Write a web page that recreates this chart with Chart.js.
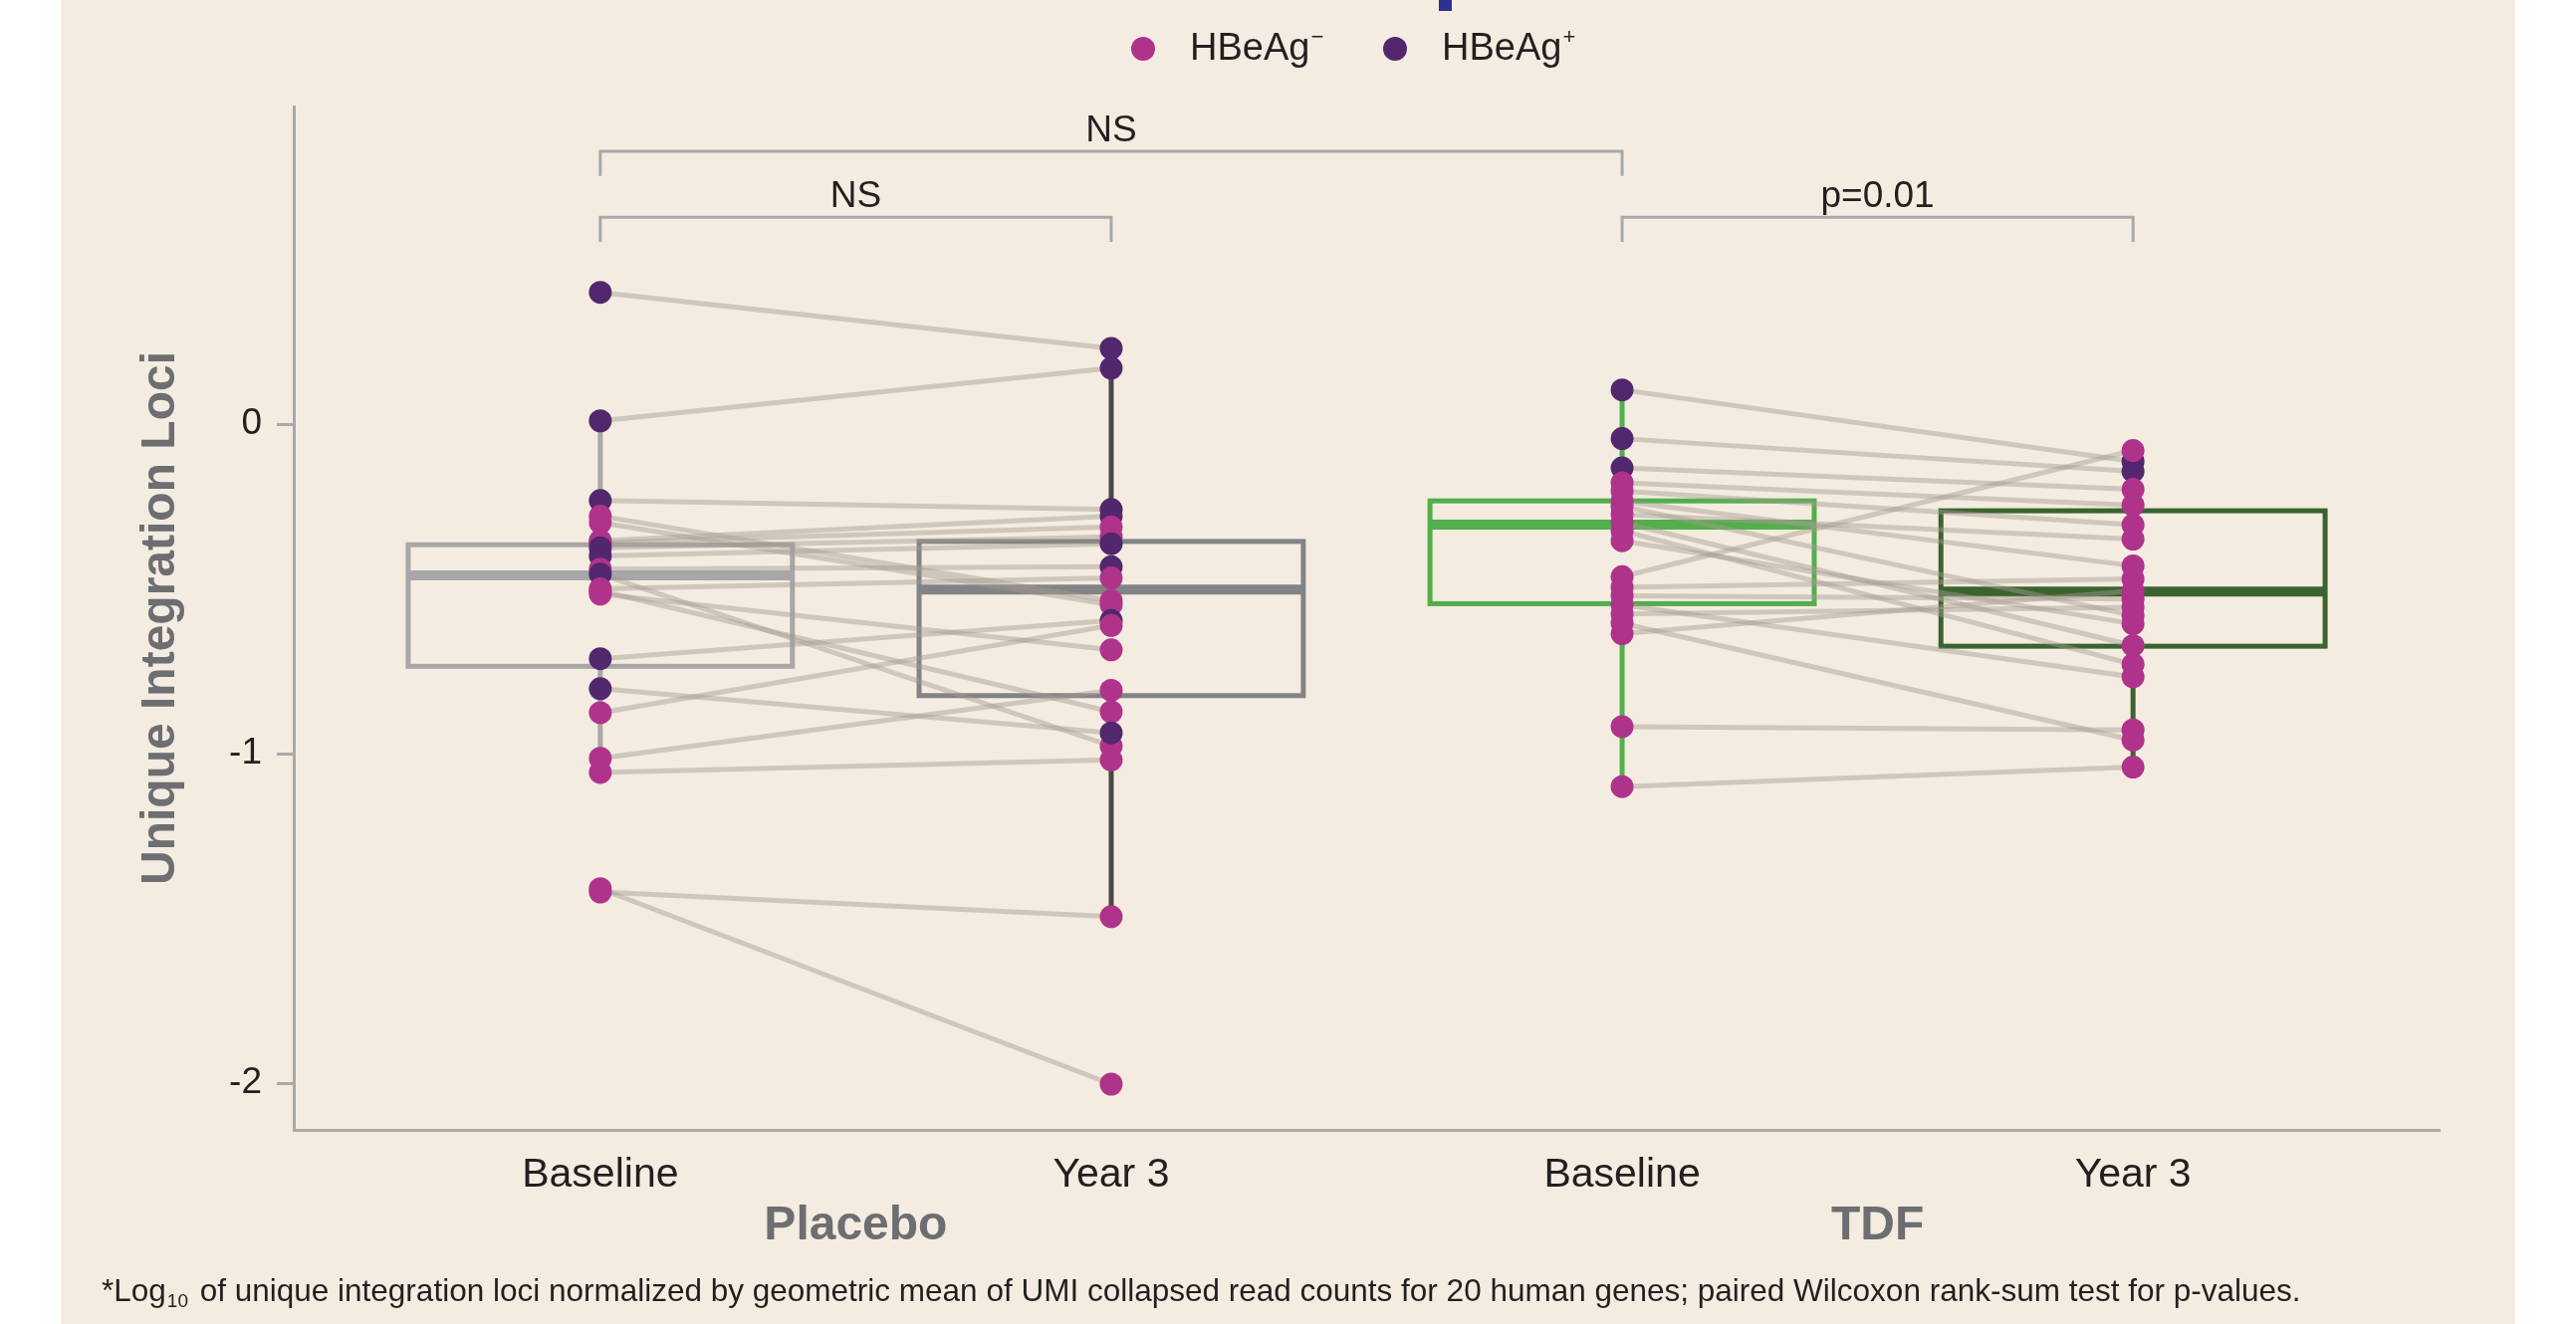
<!DOCTYPE html>
<html>
<head>
<meta charset="utf-8">
<script src="https://cdn.jsdelivr.net/npm/chart.js@4.4.0/dist/chart.umd.min.js"></script>
<style>
  html, body { margin: 0; padding: 0; background: #fff; }
  canvas { display: block; }
</style>
</head>
<body>
<canvas id="chart" width="2587" height="1330"></canvas>
<script>
// ---- data ----
const timeLabels = ['Baseline', 'Year 3', 'Baseline', 'Year 3'];
const armLabels = ['Placebo', 'TDF'];
const armCenters = [0.5, 2.5];
const yTicks = [0, -1, -2];

// one entry per patient, baseline and year 3 paired by index
const placeboBaseline = [0.40, 0.01, -0.232, -0.279, -0.299, -0.354, -0.36, -0.375, -0.40, -0.44, -0.455, -0.50, -0.506, -0.516, -0.712, -0.803, -0.876, -1.014, -1.057, -1.42, -1.41];
const placeboYear3 = [0.23, 0.17, -0.259, -0.536, -0.548, -0.279, -0.312, -0.342, -0.363, -0.433, -0.977, -0.467, -0.873, -0.685, -0.596, -0.937, -0.611, -0.808, -1.019, -1.495, -2.003];
const placeboBaselineStatus = ['+','+','+','-','-','-','-','+','+','-','+','-','-','-','+','+','-','-','-','-','-'];
const placeboYear3Status = ['+','+','+','-','-','+','-','-','+','+','-','-','-','-','+','+','-','-','-','-','-'];

const tdfBaseline = [0.104, -0.044, -0.133, -0.178, -0.203, -0.234, -0.249, -0.274, -0.299, -0.324, -0.354, -0.463, -0.495, -0.521, -0.548, -0.576, -0.604, -0.636, -0.918, -1.10];
const tdfYear3 = [-0.113, -0.143, -0.198, -0.246, -0.306, -0.430, -0.581, -0.349, -0.672, -0.729, -0.606, -0.080, -0.470, -0.531, -0.767, -0.556, -0.959, -0.506, -0.928, -1.041];
const tdfBaselineStatus = ['+','+','+','-','-','-','-','-','-','-','-','-','-','-','-','-','-','-','-','-'];
const tdfYear3Status = ['+','+','-','-','-','-','-','-','-','-','-','-','-','-','-','-','-','-','-','-'];

// box plot summaries per column (placebo BL, placebo Y3, TDF BL, TDF Y3)
const whiskerHigh = [0.015, 0.23, 0.104, -0.080];
const boxQ3 = [-0.366, -0.356, -0.233, -0.263];
const boxMedian = [-0.459, -0.502, -0.305, -0.508];
const boxQ1 = [-0.735, -0.824, -0.545, -0.674];
const whiskerLow = [-1.057, -1.495, -1.10, -1.041];

// significance brackets
const bracketFrom = [0, 0, 2];
const bracketTo = [2, 1, 3];
const bracketY = [0.828, 0.628, 0.628];
const bracketLabels = ['NS', 'NS', 'p=0.01'];

const legendLabels = ['HBeAg', 'HBeAg'];
const legendSup = ['\u2212', '+'];

// ---- styling ----
const FONT = "'Liberation Sans', Arial, Helvetica, sans-serif";
const BG = '#F4ECE0';
const MAGENTA = '#AF338B';
const PURPLE = '#52276E';
const TEXT = '#231F20';
const AXIS_GRAY = '#A7A9AC';
const TITLE_GRAY = '#6D6E71';
const PAIR_LINE = 'rgba(165,155,145,0.45)';
const boxColors = ['#A7A7A9', '#828386', '#52AF4B', '#3B6330'];
const whiskerColors = ['#A7A7A9', '#474747', '#52AF4B', '#3B6330'];
const BOX_HALF = 0.376;

const statusColor = s => (s === '+' ? PURPLE : MAGENTA);

const datasets = [];

function addPairs(base, year3, xStart) {
    base.forEach((b, i) => {
        datasets.push({
            type: 'line',
            data: [{ x: xStart, y: b }, { x: xStart + 1, y: year3[i] }],
            borderColor: PAIR_LINE,
            borderWidth: 5,
            pointRadius: 0,
            order: 2
        });
    });
}

function addColumn(values, status, x) {
    datasets.push({
        type: 'scatter',
        data: values.map(v => ({ x: x, y: v })),
        pointBackgroundColor: status.map(statusColor),
        pointBorderWidth: 0,
        pointRadius: 11.5,
        order: 1
    });
}

addPairs(placeboBaseline, placeboYear3, 0);
addPairs(tdfBaseline, tdfYear3, 2);
addColumn(placeboBaseline, placeboBaselineStatus, 0);
addColumn(placeboYear3, placeboYear3Status, 1);
addColumn(tdfBaseline, tdfBaselineStatus, 2);
addColumn(tdfYear3, tdfYear3Status, 3);

// background panel
const backgroundPlugin = {
    id: 'background',
    beforeDraw(chart) {
        const ctx = chart.ctx;
        ctx.save();
        ctx.fillStyle = '#ffffff';
        ctx.fillRect(0, 0, chart.width, chart.height);
        ctx.fillStyle = BG;
        ctx.fillRect(61, 0, 2465, chart.height);
        // cut-off descender of the panel title above
        ctx.fillStyle = '#2E3192';
        ctx.fillRect(1445, 0, 13, 11);
        ctx.restore();
    }
};

// boxes and whiskers
const boxPlugin = {
    id: 'boxes',
    beforeDatasetsDraw(chart) {
        const ctx = chart.ctx;
        const xs = chart.scales.x, ys = chart.scales.y;
        ctx.save();
        for (let i = 0; i < boxQ1.length; i++) {
            const cx = xs.getPixelForValue(i);
            const l = xs.getPixelForValue(i - BOX_HALF);
            const r = xs.getPixelForValue(i + BOX_HALF);
            const q1 = ys.getPixelForValue(boxQ1[i]);
            const q3 = ys.getPixelForValue(boxQ3[i]);
            const med = ys.getPixelForValue(boxMedian[i]);

            ctx.strokeStyle = whiskerColors[i];
            ctx.lineWidth = 5;
            ctx.beginPath();
            ctx.moveTo(cx, ys.getPixelForValue(whiskerHigh[i]));
            ctx.lineTo(cx, q3);
            ctx.moveTo(cx, q1);
            ctx.lineTo(cx, ys.getPixelForValue(whiskerLow[i]));
            ctx.stroke();

            ctx.strokeStyle = boxColors[i];
            ctx.lineWidth = 5;
            ctx.strokeRect(l, q3, r - l, q1 - q3);
            ctx.lineWidth = 10;
            ctx.beginPath();
            ctx.moveTo(l, med);
            ctx.lineTo(r, med);
            ctx.stroke();
        }
        ctx.restore();
    }
};

// brackets, legend, titles, footnote
const annotationPlugin = {
    id: 'annotations',
    afterDraw(chart) {
        const ctx = chart.ctx;
        const xs = chart.scales.x, ys = chart.scales.y;
        const area = chart.chartArea;
        ctx.save();

        // brackets
        ctx.strokeStyle = AXIS_GRAY;
        ctx.lineWidth = 3;
        ctx.fillStyle = TEXT;
        ctx.font = '37px ' + FONT;
        ctx.textAlign = 'center';
        ctx.textBaseline = 'alphabetic';
        bracketFrom.forEach((f, i) => {
            const x1 = xs.getPixelForValue(f);
            const x2 = xs.getPixelForValue(bracketTo[i]);
            const y = ys.getPixelForValue(bracketY[i]);
            const yEnd = ys.getPixelForValue(bracketY[i] - 0.075);
            ctx.beginPath();
            ctx.moveTo(x1, yEnd);
            ctx.lineTo(x1, y);
            ctx.lineTo(x2, y);
            ctx.lineTo(x2, yEnd);
            ctx.stroke();
            ctx.fillText(bracketLabels[i], (x1 + x2) / 2, y - 10);
        });

        // legend
        const legendDotX = [1148, 1401];
        const legendColors = [MAGENTA, PURPLE];
        legendLabels.forEach((lab, i) => {
            ctx.fillStyle = legendColors[i];
            ctx.beginPath();
            ctx.arc(legendDotX[i], 49, 12, 0, Math.PI * 2);
            ctx.fill();
            ctx.fillStyle = TEXT;
            ctx.textAlign = 'left';
            ctx.textBaseline = 'middle';
            ctx.font = '38px ' + FONT;
            const tx = legendDotX[i] + 47;
            ctx.fillText(lab, tx, 50);
            const w = ctx.measureText(lab).width;
            ctx.font = '22px ' + FONT;
            ctx.fillText(legendSup[i], tx + w + 1, 38);
        });

        // y axis title
        ctx.fillStyle = TITLE_GRAY;
        ctx.font = 'bold 48px ' + FONT;
        ctx.textAlign = 'center';
        ctx.textBaseline = 'alphabetic';
        ctx.translate(175, (area.top + area.bottom) / 2);
        ctx.rotate(-Math.PI / 2);
        ctx.fillText('Unique Integration Loci', 0, 0);
        ctx.setTransform(1, 0, 0, 1, 0, 0);

        // arm labels
        ctx.font = 'bold 48px ' + FONT;
        ctx.textBaseline = 'middle';
        armLabels.forEach((lab, i) => {
            ctx.fillText(lab, xs.getPixelForValue(armCenters[i]), area.bottom + 97);
        });

        // footnote
        ctx.fillStyle = TEXT;
        ctx.textAlign = 'left';
        ctx.textBaseline = 'middle';
        let fx = 102;
        const fy = 1298;
        ctx.font = '31.5px ' + FONT;
        ctx.fillText('*Log', fx, fy);
        fx += ctx.measureText('*Log').width;
        ctx.font = '19px ' + FONT;
        ctx.fillText('10', fx + 1, fy + 10);
        fx += ctx.measureText('10').width + 4;
        ctx.font = '31.5px ' + FONT;
        ctx.fillText(' of unique integration loci normalized by geometric mean of UMI collapsed read counts for 20 human genes; paired Wilcoxon rank-sum test for p-values.', fx, fy);

        ctx.restore();
    }
};

new Chart(document.getElementById('chart'), {
    data: { datasets: datasets },
    options: {
        responsive: false,
        animation: false,
        devicePixelRatio: 1,
        layout: { padding: { top: 107, right: 137, left: 0, bottom: 0 } },
        plugins: {
            legend: { display: false },
            tooltip: { enabled: false }
        },
        scales: {
            x: {
                type: 'linear',
                min: -0.6,
                max: 3.6,
                afterFit: s => { s.height = 195; },
                afterBuildTicks: s => { s.ticks = timeLabels.map((t, i) => ({ value: i })); },
                grid: { display: false, drawTicks: false },
                border: { display: true, color: AXIS_GRAY, width: 3 },
                ticks: {
                    padding: 21,
                    color: TEXT,
                    font: { family: FONT, size: 41 },
                    maxRotation: 0,
                    autoSkip: false,
                    callback: v => timeLabels[v]
                }
            },
            y: {
                type: 'linear',
                min: -2.142,
                max: 0.964,
                afterFit: s => { s.width = 295; },
                afterBuildTicks: s => { s.ticks = yTicks.map(v => ({ value: v })); },
                grid: { drawOnChartArea: false, tickLength: 17, tickColor: AXIS_GRAY, tickWidth: 3 },
                border: { display: true, color: AXIS_GRAY, width: 3 },
                ticks: {
                    padding: 15,
                    color: TEXT,
                    font: { family: FONT, size: 37 },
                    callback: v => String(v)
                }
            }
        }
    },
    plugins: [backgroundPlugin, boxPlugin, annotationPlugin]
});
</script>
</body>
</html>
